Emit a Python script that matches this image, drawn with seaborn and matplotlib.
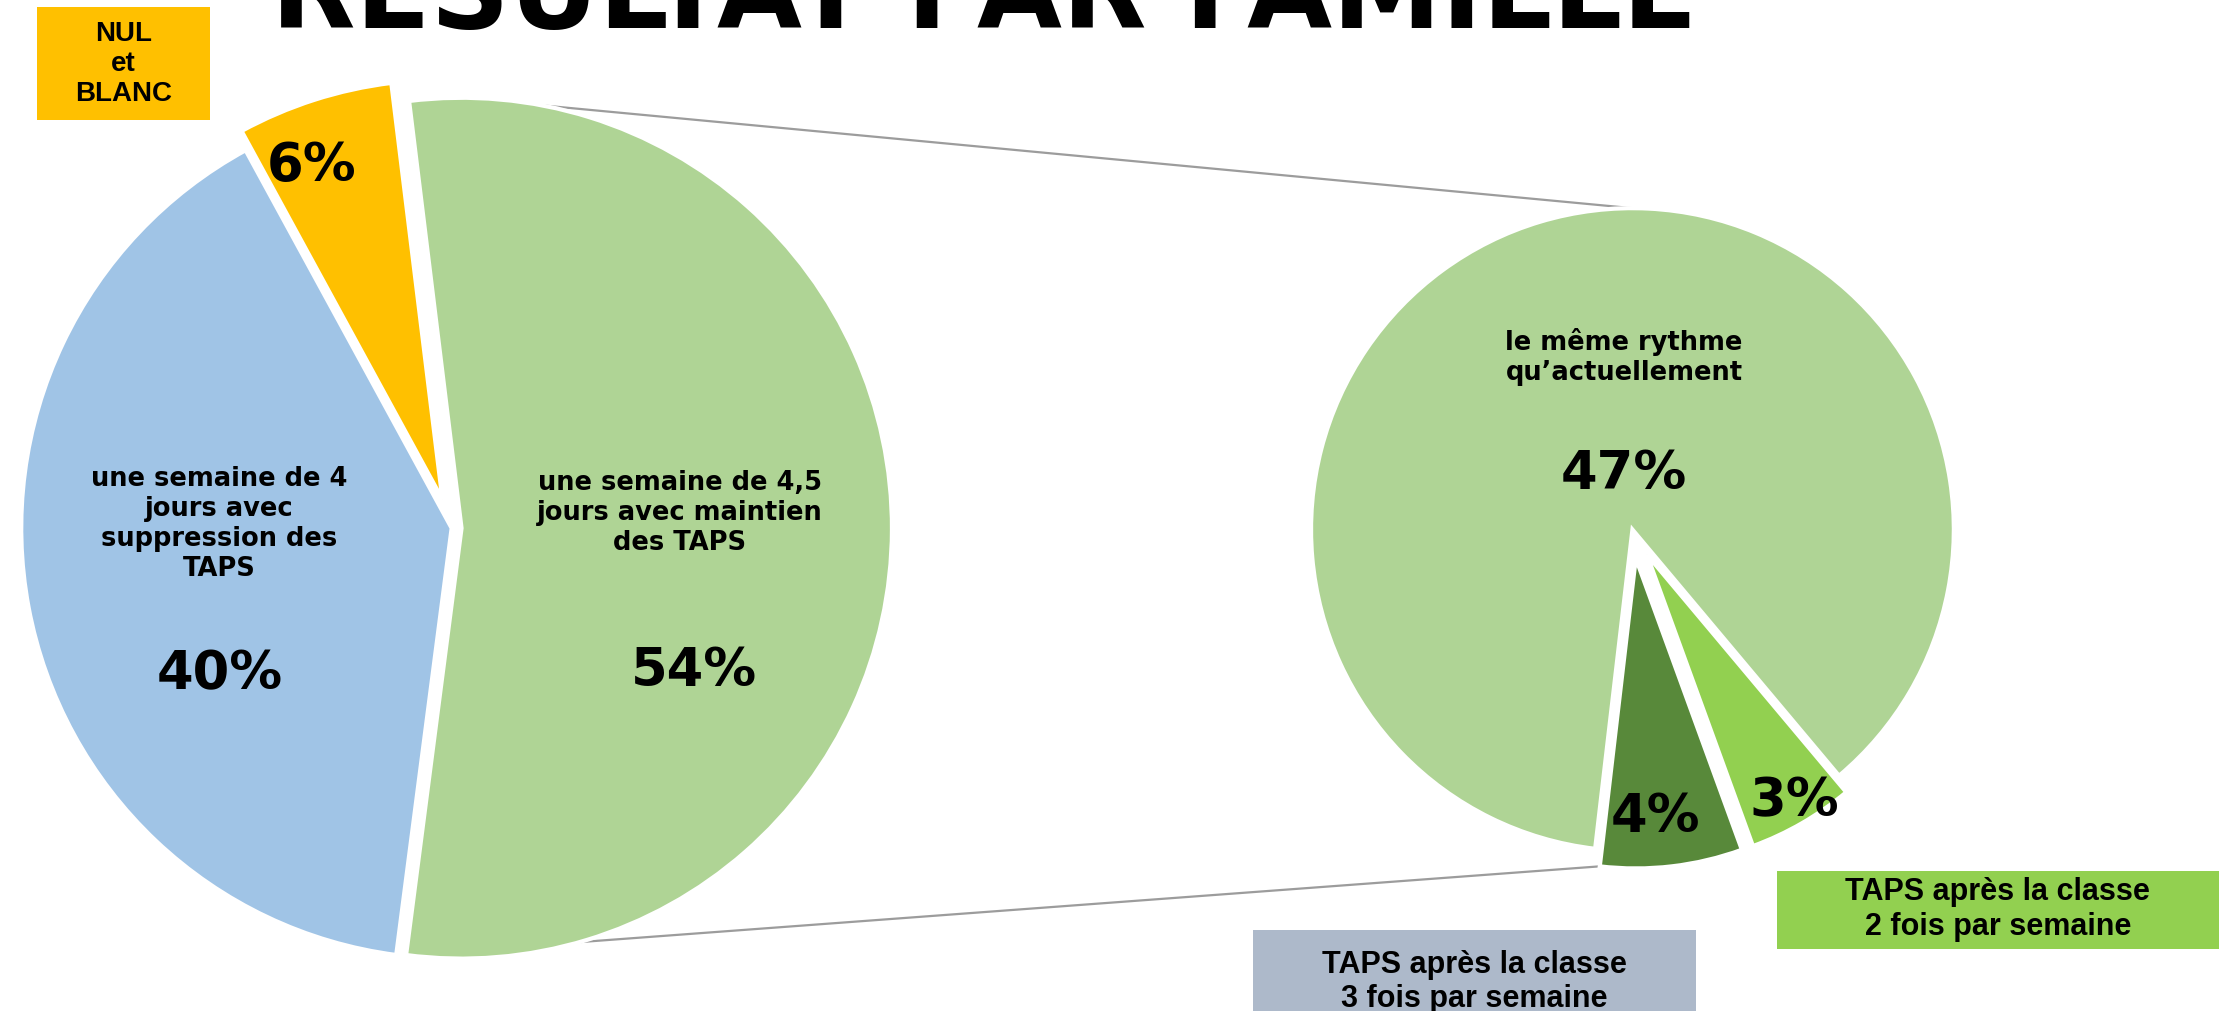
import matplotlib.pyplot as plt
import matplotlib.patches as mpatches
import numpy as np
import seaborn as sns

# main pie
main_labels = ['une semaine de 4,5\njours avec maintien\ndes TAPS',
               'une semaine de 4\njours avec\nsuppression des\nTAPS',
               'NUL\net\nBLANC']
main_values = [54, 40, 6]
main_colors = ['#AFD495', '#A0C4E6', '#FFC000']

# breakdown of the 54 %
sub_labels = ['le même rythme\nqu’actuellement',
              'TAPS après la classe\n3 fois par semaine',
              'TAPS après la classe\n2 fois par semaine']
sub_values = [47, 4, 3]
sub_colors = ['#AFD495', '#58893A', '#92D050']

title = 'RÉSULTAT PAR FAMILLE'

sns.set_theme(style='white')
plt.rcParams['font.family'] = ['DejaVu Sans']

W, H = 1568, 714  # working coordinates (reference scale)
fig = plt.figure(figsize=(22.2, 10.11), dpi=100)
ax = fig.add_axes([0, 0, 1, 1])

wp = dict(edgecolor='white', linewidth=3)

# left pie (explode in matplotlib is in data units, so scale by radius)
left_c, left_r = (319, 341), 304
left_expl = (0.023, 0.0, 0.07)
lw_, _ = ax.pie(main_values, colors=main_colors, startangle=97, counterclock=False,
                explode=[f * left_r for f in left_expl],
                center=left_c, radius=left_r, wedgeprops=wp, frame=True)

# right pie
right_c, right_r = (1153, 340), 227
right_expl = (0.0, 0.09, 0.09)
rw_, _ = ax.pie(sub_values, colors=sub_colors, startangle=-50, counterclock=True,
                explode=[f * right_r for f in right_expl],
                center=right_c, radius=right_r, wedgeprops=wp, frame=True)

# pulled-out slices are drawn a bit smaller, like the original
lw_[2].set_radius(left_r * 0.975)
rw_[1].set_radius(right_r * 0.965)
rw_[2].set_radius(right_r * 0.965)

ax.set_xlim(0, W)
ax.set_ylim(0, H)
ax.set_aspect('equal')
ax.axis('off')


def edge_point(w, ang):
    cx, cy = w.center
    return cx + w.r * np.cos(np.radians(ang)), cy + w.r * np.sin(np.radians(ang))


# connector lines between the split slice and the secondary pie
g = lw_[0]
p_top = edge_point(g, 90)
p_bot = edge_point(g, g.theta1)
q_top = edge_point(rw_[0], 90)
q_bot = edge_point(rw_[1], rw_[1].theta1)
for a, b in [(p_top, q_top), (p_bot, q_bot)]:
    ax.plot([a[0], b[0]], [a[1], b[1]], color='#9C9C9C', lw=1.6, zorder=0)

lab_kw = dict(ha='center', va='center', fontsize=18.5, fontweight='bold', color='black')
pct_kw = dict(ha='center', va='center', fontsize=38, fontweight='bold', color='black')

# left pie texts
ax.text(480, H - 362, main_labels[0], **lab_kw)
ax.text(490, H - 474, f'{main_values[0]}%', **pct_kw)
ax.text(155, H - 370, main_labels[1], **lab_kw)
ax.text(155, H - 476, f'{main_values[1]}%', **pct_kw)
ax.text(220, H - 117, f'{main_values[2]}%', **pct_kw)

# right pie texts
ax.text(1147, H - 252, sub_labels[0], **lab_kw)
ax.text(1147, H - 335, f'{sub_values[0]}%', **pct_kw)
ax.text(1169, H - 577, f'{sub_values[1]}%', **pct_kw)
ax.text(1267, H - 566, f'{sub_values[2]}%', **pct_kw)

# label boxes
box_kw = dict(ha='center', va='center', fontsize=22, fontweight='bold',
              color='black', family=['Liberation Sans', 'DejaVu Sans'])


def box(x0, y0, x1, y1, color, text, **kw):
    ax.add_patch(mpatches.Rectangle((x0, H - y1), x1 - x0, y1 - y0,
                                    facecolor=color, edgecolor='none', zorder=3))
    ax.text((x0 + x1) / 2, H - (y0 + y1) / 2, text, zorder=4, **{**box_kw, **kw})


box(26, 5, 148, 85, main_colors[2], main_labels[2], fontsize=20, linespacing=1.2)
box(885, 657, 1198, 730, '#ADB9CA', sub_labels[1])
box(1255, 615, 1567, 670, sub_colors[2], sub_labels[2])

# title, cut by the top edge as in the original slide
ax.text(695, H - 20, title, ha='center', va='baseline', fontsize=79,
        fontweight='bold', color='black', clip_on=False)

fig.savefig('out.png', dpi=100)
